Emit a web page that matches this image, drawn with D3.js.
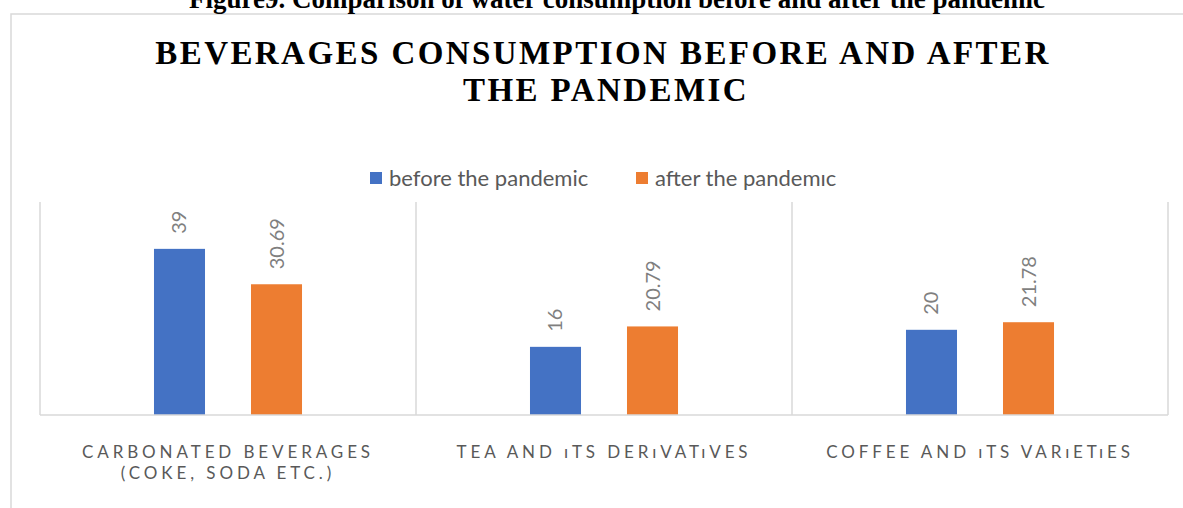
<!DOCTYPE html>
<html>
<head>
<meta charset="utf-8">
<style>
  body { margin: 0; background: #fff; }
  svg { display: block; }
  .cat text { font-family: Lato, "Open Sans", sans-serif; fill: #595959; }
</style>
</head>
<body>
<div id="container"></div>
<script src="https://d3js.org/d3.v7.min.js"></script>
<script>

var categories = [
  ["CARBONATED BEVERAGES", "(COKE, SODA ETC.)"],
  ["TEA AND ıTS DERıVATıVES"],
  ["COFFEE AND ıTS VARıETıES"]
];
var seriesNames = ["before the pandemic", "after the pandemıc"];
var beforeValues = [39, 16, 20];
var afterValues = [30.69, 20.79, 21.78];
var beforeLabels = ["39", "16", "20"];
var afterLabels = ["30.69", "20.79", "21.78"];
var titleLines = ["BEVERAGES CONSUMPTION BEFORE AND AFTER", "THE PANDEMIC"];
var caption = "Figure9. Comparison of water consumption before and after the pandemic";

var colors = ["#4472C4", "#ED7D31"];

var W = 1183, H = 508;
var plot = {left: 40, right: 1168, top: 202, bottom: 415};

var svg = d3.select("#container").append("svg")
    .attr("width", W).attr("height", H);

// chart frame (runs off the page to the right and bottom)
svg.append("rect")
    .attr("x", 11).attr("y", 14)
    .attr("width", 1300).attr("height", 600)
    .attr("fill", "none")
    .attr("stroke", "#d9d9d9")
    .attr("stroke-width", 1.5);

// caption above the frame, clipped at the top
svg.append("text")
    .attr("x", 617).attr("y", 8)
    .attr("text-anchor", "middle")
    .attr("font-family", "'Liberation Serif', 'Times New Roman', serif")
    .attr("font-weight", "bold")
    .attr("font-size", 27)
    .text(caption);

// title
var title = svg.append("g")
    .attr("font-family", "'Liberation Serif', 'Times New Roman', serif")
    .attr("font-weight", "bold")
    .attr("font-size", 33)
    .attr("text-anchor", "middle");

var t1 = title.append("text").attr("x", 603).attr("y", 64).text(titleLines[0]);
var natural = t1.node().getComputedTextLength();
var spacing = (893 - natural) / (titleLines[0].length - 1);
t1.attr("letter-spacing", spacing);
title.append("text").attr("x", 606).attr("y", 101)
    .attr("letter-spacing", spacing)
    .text(titleLines[1]);

// legend
var legendPos = [370, 636];
var legend = svg.append("g")
    .selectAll("g")
    .data(seriesNames)
    .join("g")
    .attr("transform", function(d, i) { return "translate(" + legendPos[i] + ",172)"; });

legend.append("rect")
    .attr("width", 12).attr("height", 12)
    .attr("fill", function(d, i) { return colors[i]; });

legend.append("text")
    .attr("x", 19).attr("y", 6)
    .attr("dy", "0.35em")
    .attr("font-family", "Lato, 'Open Sans', sans-serif")
    .attr("font-size", 22)
    .attr("fill", "#595959")
    .text(function(d) { return d; });

// scales
var x0 = d3.scaleBand()
    .domain(d3.range(categories.length))
    .range([plot.left, plot.right])
    .padding(0);

var x1 = d3.scaleBand()
    .domain([0, 1])
    .range([0, x0.bandwidth()])
    .paddingInner(0.474)
    .paddingOuter(1.175);

var y = d3.scaleLinear()
    .domain([0, 50])
    .range([plot.bottom, plot.top]);

var g = svg.append("g");

// category separators
g.selectAll("line.sep")
    .data(d3.range(categories.length + 1))
    .join("line")
    .attr("class", "sep")
    .attr("x1", function(i) { return i < categories.length ? x0(i) : plot.right; })
    .attr("x2", function(i) { return i < categories.length ? x0(i) : plot.right; })
    .attr("y1", plot.top)
    .attr("y2", plot.bottom)
    .attr("stroke", "#d9d9d9")
    .attr("stroke-width", 1.5);

var rows = categories.map(function(c, i) {
  return [
    {cat: i, s: 0, v: beforeValues[i], label: beforeLabels[i]},
    {cat: i, s: 1, v: afterValues[i], label: afterLabels[i]}
  ];
});
var flat = [].concat.apply([], rows);

g.selectAll("rect.bar")
    .data(flat)
    .join("rect")
    .attr("class", "bar")
    .attr("x", function(d) { return x0(d.cat) + x1(d.s); })
    .attr("y", function(d) { return y(d.v); })
    .attr("width", x1.bandwidth())
    .attr("height", function(d) { return y(0) - y(d.v); })
    .attr("fill", function(d) { return colors[d.s]; });

// baseline
g.append("line")
    .attr("x1", plot.left).attr("x2", plot.right)
    .attr("y1", y(0)).attr("y2", y(0))
    .attr("stroke", "#d9d9d9")
    .attr("stroke-width", 1.5);

// rotated data labels
g.selectAll("text.val")
    .data(flat)
    .join("text")
    .attr("class", "val")
    .attr("transform", function(d) {
      var cx = x0(d.cat) + x1(d.s) + x1.bandwidth() / 2;
      return "translate(" + cx + "," + (y(d.v) - 15) + ") rotate(-90)";
    })
    .attr("dy", "0.35em")
    .attr("font-family", "Lato, 'Open Sans', sans-serif")
    .attr("font-size", 20)
    .attr("fill", "#7f7f7f")
    .text(function(d) { return d.label; });

// category labels
var cat = g.append("g").attr("class", "cat")
    .selectAll("text")
    .data(categories)
    .join("text")
    .attr("x", function(d, i) { return x0(i) + x0.bandwidth() / 2; })
    .attr("y", 458)
    .attr("text-anchor", "middle")
    .attr("font-size", 17)
    .attr("letter-spacing", 3.9);

cat.selectAll("tspan")
    .data(function(d) { return d; })
    .join("tspan")
    .attr("x", function() { return d3.select(this.parentNode).attr("x"); })
    .attr("dy", function(d, i) { return i === 0 ? 0 : 21; })
    .text(function(d) { return d; });

</script>
</body>
</html>
